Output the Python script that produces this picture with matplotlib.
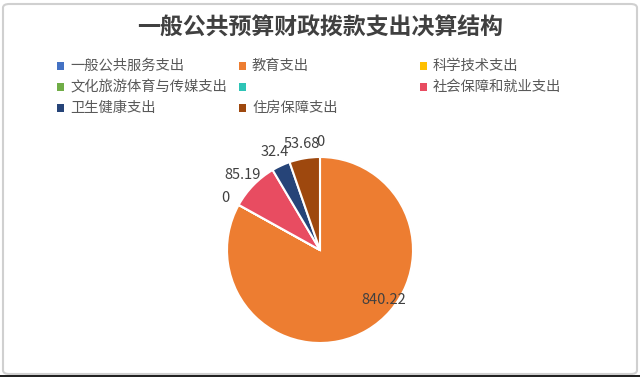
import numpy as np
import matplotlib
matplotlib.use("Agg")
import matplotlib.pyplot as plt
from matplotlib.patches import FancyBboxPatch, Rectangle

plt.rcParams['font.family'] = ['Noto Sans CJK SC', 'DejaVu Sans']

# data
names = ["一般公共服务支出", "教育支出", "科学技术支出", "文化旅游体育与传媒支出", "",
         "社会保障和就业支出", "卫生健康支出", "住房保障支出"]
values = [0, 840.22, 0, 0, 0, 85.19, 32.4, 53.68]
labels = ["0", "840.22", "", "", "0", "85.19", "32.4", "53.68"]
colors = ["#4472C4", "#ED7D31", "#FFC000", "#70AD47", "#2EC4B6",
          "#E84C61", "#264478", "#9E480E"]

W, H = 640, 377
fig = plt.figure(figsize=(W / 100, H / 100), dpi=100)

# chart frame (behind everything)
frame = FancyBboxPatch((3 / W, 3 / H), 1 - 6 / W, 1 - 7 / H,
                       boxstyle="round,pad=0,rounding_size=0.01",
                       transform=fig.transFigure, fc="white",
                       ec="#d0d0d0", lw=1.5, zorder=-5)
fig.patches.append(frame)
fig.patches.append(Rectangle((0, 0), 1, 2 / H, transform=fig.transFigure,
                             fc="#222222", ec="none", zorder=-4))

fig.text(0.5, 1 - 28 / H, "一般公共预算财政拨款支出决算结构", ha="center",
         va="center", fontsize=16.5, color="#404040", weight="bold")

# legend, laid out row by row like the original
col_x = [57, 239, 420]
row_y = [66, 87, 108]
for i, name in enumerate(names):
    x = col_x[i % 3]
    y = row_y[i // 3]
    fig.patches.append(Rectangle((x / W, (H - y - 4) / H), 7 / W, 8 / H,
                                 transform=fig.transFigure, fc=colors[i], ec="none"))
    fig.text((x + 13) / W, 1 - y / H, name, ha="left", va="center",
             fontsize=10.3, color="#595959")

# pie
R = 93
cx, cy = 320, 250
ax = fig.add_axes([(cx - R) / W, (H - cy - R) / H, 2 * R / W, 2 * R / H])
ax.patch.set_alpha(0)
wedges, _ = ax.pie(values, colors=colors, startangle=90, counterclock=False,
                   wedgeprops=dict(edgecolor="white", linewidth=1.5))
ax.set_xlim(-1, 1)
ax.set_ylim(-1, 1)
ax.set_aspect("equal")

for i, w in enumerate(wedges):
    if labels[i] == "":
        continue
    ang = np.deg2rad((w.theta1 + w.theta2) / 2)
    if values[i] > 500:
        ang = np.deg2rad(-38)
        r = 0.87
    else:
        r = 1.16
    ax.text(r * np.cos(ang), r * np.sin(ang), labels[i], ha="center",
            va="center", fontsize=10.5, color="#404040", clip_on=False)

fig.savefig("out.png", dpi=100)
